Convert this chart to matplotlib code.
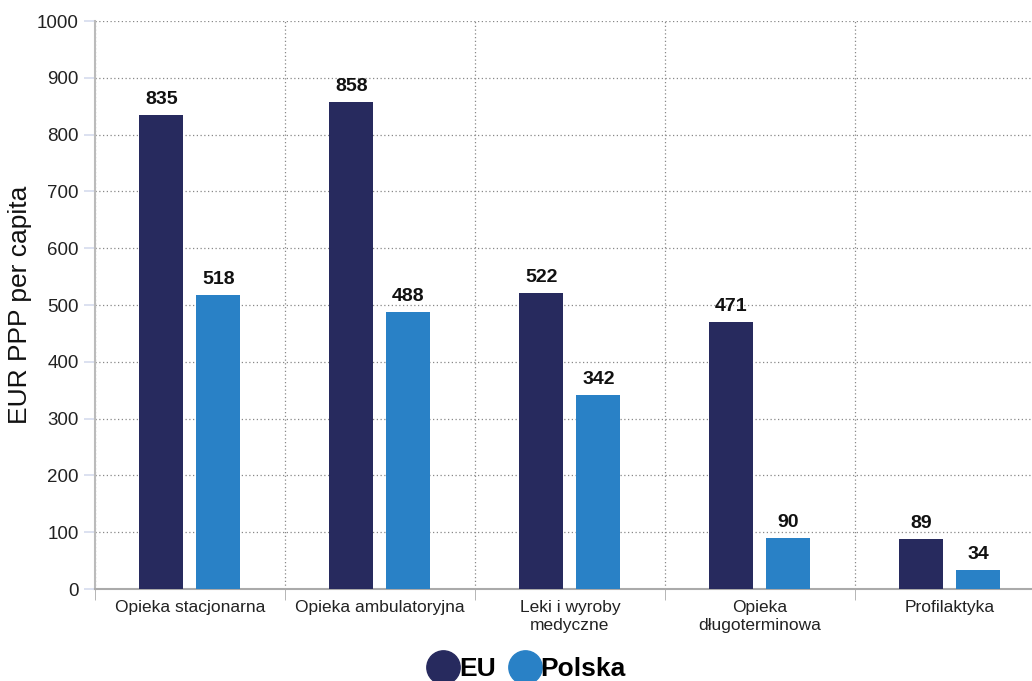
import matplotlib.pyplot as plt
import numpy as np
from matplotlib.lines import Line2D

plt.rcParams["font.family"] = ["Liberation Sans", "DejaVu Sans"]

categories = ["Opieka stacjonarna", "Opieka ambulatoryjna", "Leki i wyroby\nmedyczne",
              "Opieka\ndługoterminowa", "Profilaktyka"]
eu_values = [835, 858, 522, 471, 89]
pl_values = [518, 488, 342, 90, 34]

eu_color = "#272a5e"
pl_color = "#2981c6"

fig = plt.figure(figsize=(10.32, 6.81), dpi=100)
ax = fig.add_axes([0.092, 0.135, 0.9205, 0.834])

x = np.arange(len(categories))
w = 0.232
off = 0.15
b1 = ax.bar(x - off, eu_values, w, color=eu_color, zorder=3)
b2 = ax.bar(x + off, pl_values, w, color=pl_color, zorder=3)
for bars, vals in ((b1, eu_values), (b2, pl_values)):
    for rect, v in zip(bars, vals):
        ax.text(rect.get_x() + rect.get_width() / 2, v + 12, str(v), ha="center", va="bottom",
                fontsize=14, fontweight="bold", color="#111111")

ax.set_xlim(-0.5, len(categories) - 0.5)
ax.set_ylim(0, 1000)
ax.set_yticks(range(0, 1001, 100))
ax.tick_params(axis="y", labelsize=13.5, length=8, color="#d5dcee", width=1.2, labelcolor="#222222")

ax.set_xticks(x)
ax.set_xticklabels(categories, fontsize=12.5, color="#222222")
ax.tick_params(axis="x", length=0, pad=8)
ax.set_xticks(np.arange(-0.5, len(categories), 1), minor=True)
ax.tick_params(axis="x", which="minor", length=8, color="#aaaaaa")

ax.grid(True, axis="y", which="major", linestyle=(0, (1, 2)), color="#888888", linewidth=0.9, zorder=0)
ax.grid(True, axis="x", which="minor", linestyle=(0, (1, 2)), color="#888888", linewidth=0.9, zorder=0)
ax.grid(False, axis="x", which="major")
for s in ["top", "right"]:
    ax.spines[s].set_visible(False)
ax.spines["left"].set_color("#bbbbbb")
ax.spines["bottom"].set_color("#aaaaaa")
ax.spines["left"].set_linewidth(1.5)
ax.spines["bottom"].set_linewidth(1.5)

ax.set_ylabel("EUR PPP per capita", fontsize=19, color="#111111", labelpad=4)

handles = [Line2D([], [], marker="o", linestyle="", markersize=24, color=eu_color),
           Line2D([], [], marker="o", linestyle="", markersize=24, color=pl_color)]
fig.legend(handles, ["EU", "Polska"], loc="center", bbox_to_anchor=(0.505, 0.018),
           ncol=2, frameon=False, handletextpad=-0.4, columnspacing=0.1,
           prop={"size": 19, "weight": "bold"})

fig.savefig("out.png", dpi=100)
